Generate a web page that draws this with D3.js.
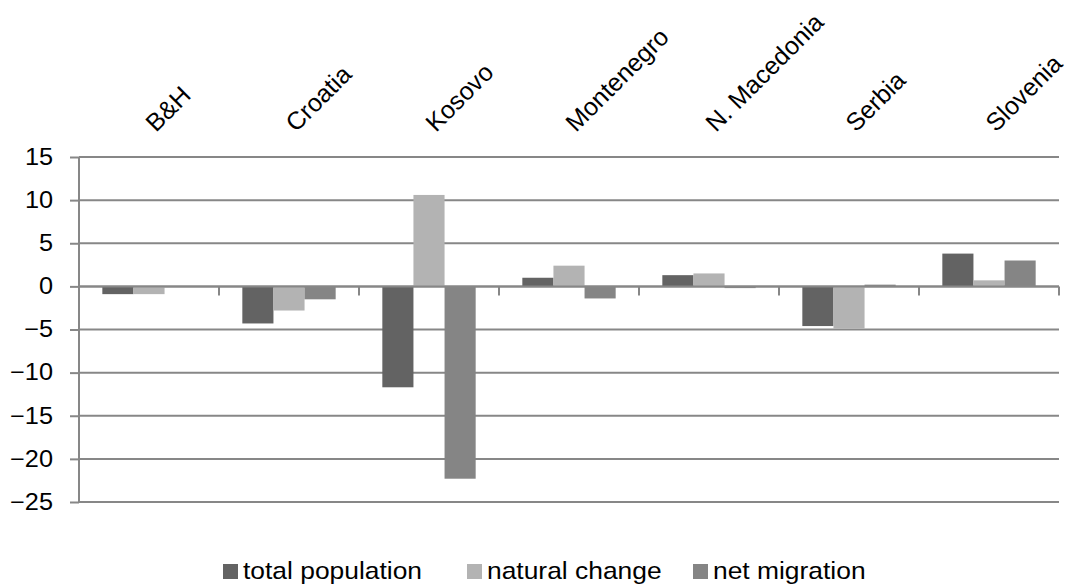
<!DOCTYPE html>
<html lang="en">
<head>
  <meta charset="UTF-8">
  <script src="https://d3js.org/d3.v7.min.js"></script>
  <style>
    body { margin: 0; background: white; }
    text { font-family: "Liberation Sans", Arial, sans-serif; fill: #000; }
  </style>
</head>
<body>
  <div id="chart"></div>
  <script>
    // data
    const countries = ["B&H", "Croatia", "Kosovo", "Montenegro", "N. Macedonia", "Serbia", "Slovenia"];
    const seriesNames = ["total population", "natural change", "net migration"];
    const totalPopulation = [-0.9, -4.3, -11.7, 1.0, 1.3, -4.6, 3.8];
    const naturalChange = [-0.9, -2.8, 10.6, 2.4, 1.5, -4.9, 0.7];
    const netMigration = [0.0, -1.5, -22.3, -1.4, -0.2, 0.2, 3.0];
    const yTicks = [15, 10, 5, 0, -5, -10, -15, -20, -25];
    const colors = ["#636363", "#b3b3b3", "#858585"];

    const width = 1071, height = 586;
    // horizontal text in the source is a bit wide for its height
    const stretch = "scale(1.1,1)";
    const svg = d3.select("#chart").append("svg")
      .attr("width", width)
      .attr("height", height);

    const plotLeft = 79, plotRight = 1059, plotTop = 157, plotBottom = 502;
    const gridColor = "#878787";

    const y = d3.scaleLinear().domain([-25, 15]).range([plotBottom, plotTop]);
    const x0 = d3.scaleBand().domain(countries).range([plotLeft, plotRight]).padding(0);
    const x1 = d3.scaleBand().domain(seriesNames).range([0, x0.bandwidth()])
      .paddingInner(0).paddingOuter(0.75);

    // gridlines
    svg.append("g").selectAll("line")
      .data(yTicks)
      .join("line")
      .attr("x1", plotLeft).attr("x2", plotRight)
      .attr("y1", d => y(d)).attr("y2", d => y(d))
      .attr("stroke", gridColor)
      .attr("stroke-width", 2);

    // y axis
    const yAxis = svg.append("g")
      .attr("transform", "translate(" + plotLeft + ",0)")
      .call(d3.axisLeft(y).tickValues(yTicks).tickSize(9).tickPadding(17).tickFormat(d3.format("d")));
    yAxis.select(".domain").attr("stroke", gridColor).attr("stroke-width", 2)
      .attr("d", "M0," + plotTop + "V" + plotBottom);
    yAxis.selectAll(".tick line").attr("stroke", gridColor).attr("stroke-width", 2);
    yAxis.selectAll(".tick text")
      .attr("x", 0)
      .attr("transform", "translate(-26,0) " + stretch)
      .style("font-size", "23px")
      .style("font-family", "Liberation Sans, Arial, sans-serif")
      .attr("fill", "#000");

    // bars
    const table = countries.map((c, i) => ({
      country: c,
      values: [totalPopulation[i], naturalChange[i], netMigration[i]]
    }));
    const groups = svg.append("g").selectAll("g")
      .data(table)
      .join("g")
      .attr("transform", d => "translate(" + x0(d.country) + ",0)");
    groups.selectAll("rect")
      .data(d => d.values.map((v, j) => ({ name: seriesNames[j], value: v, color: colors[j] })))
      .join("rect")
      .attr("x", d => x1(d.name))
      .attr("width", x1.bandwidth())
      .attr("y", d => y(Math.max(0, d.value)))
      .attr("height", d => Math.abs(y(d.value) - y(0)))
      .attr("fill", d => d.color);

    // zero axis with category ticks
    svg.append("line")
      .attr("x1", plotLeft).attr("x2", plotRight)
      .attr("y1", y(0)).attr("y2", y(0))
      .attr("stroke", gridColor).attr("stroke-width", 2);
    const bounds = countries.slice(1).map(c => x0(c)).concat([plotRight]);
    svg.append("g").selectAll("line")
      .data(bounds)
      .join("line")
      .attr("x1", d => d).attr("x2", d => d)
      .attr("y1", y(0)).attr("y2", y(0) + 9)
      .attr("stroke", gridColor).attr("stroke-width", 2);

    // rotated category labels above the plot
    svg.append("g").selectAll("text")
      .data(countries)
      .join("text")
      .attr("transform", d => "translate(" + (x0(d) + x0.bandwidth() / 2 + 7) + ",133) rotate(-45)")
      .style("font-size", "25px")
      .text(d => d);

    // legend
    const legendX = [223, 467, 693];
    const legend = svg.append("g").selectAll("g")
      .data(seriesNames)
      .join("g")
      .attr("transform", (d, i) => "translate(" + legendX[i] + ",564)");
    legend.append("rect")
      .attr("width", 15).attr("height", 15)
      .attr("fill", (d, i) => colors[i]);
    legend.append("text")
      .attr("transform", "translate(20,15) " + stretch)
      .style("font-size", "24px")
      .text(d => d);
  </script>
</body>
</html>
